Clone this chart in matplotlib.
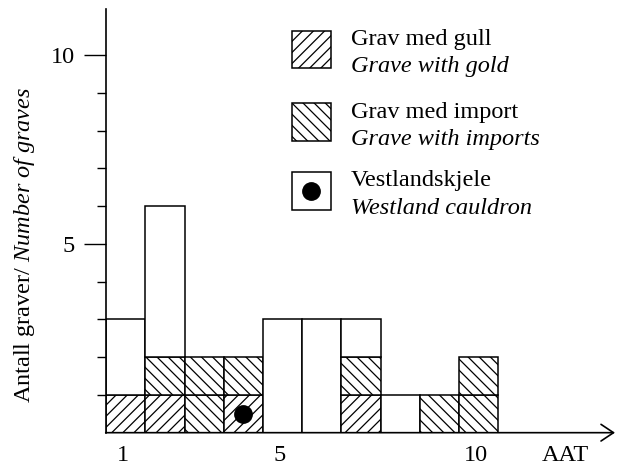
import matplotlib
matplotlib.use("Agg")
import matplotlib.pyplot as plt
from matplotlib.patches import Rectangle
from matplotlib.transforms import ScaledTranslation

plt.rcParams['font.family'] = ['Liberation Serif', 'DejaVu Serif']
plt.rcParams['mathtext.fontset'] = 'custom'
plt.rcParams['mathtext.rm'] = 'Liberation Serif'
plt.rcParams['mathtext.it'] = 'Liberation Serif:italic'
plt.rcParams['hatch.linewidth'] = 0.9
plt.rcParams['hatch.color'] = 'black'

# ---- data ----
periods = [1, 2, 3, 4, 5, 6, 7, 8, 9, 10]
gold_graves = [1, 1, 0, 1, 0, 0, 1, 0, 0, 0]
import_graves = [0, 1, 2, 1, 0, 0, 1, 0, 1, 2]
total_graves = [3, 6, 2, 2, 3, 3, 3, 1, 1, 2]
cauldron_periods = [4]
cauldron_level = [0.5]

x_tick_pos = [1, 5, 10, 12.28]
x_tick_labels = ['1', '5', '10', 'AAT']
y_major = [5, 10]
y_minor = [1, 2, 3, 4, 6, 7, 8, 9]

legend_labels = [("Grav med gull", "Grave with gold"),
                 ("Grav med import", "Grave with imports"),
                 ("Vestlandskjele", "Westland cauldron")]

FS = 17.5
LW = 1.1
GOLD_HATCH = '///'
IMPORT_HATCH = '\\\\\\'

fig = plt.figure(figsize=(6.24, 4.70), dpi=100)
ax = fig.add_axes([0.1694, 0.0794, 0.9856 - 0.1694, 0.9809 - 0.0794])
ax.set_xlim(0.49, 13.48)
ax.set_ylim(0, 11.22)

# ---- bars: cell by cell ----
for x, g, im, tot in zip(periods, gold_graves, import_graves, total_graves):
    level = 0
    for _ in range(g):
        ax.bar(x, 1, bottom=level, width=1, facecolor='white', edgecolor='black',
               hatch=GOLD_HATCH, linewidth=LW, zorder=2)
        level += 1
    for _ in range(im):
        ax.bar(x, 1, bottom=level, width=1, facecolor='white', edgecolor='black',
               hatch=IMPORT_HATCH, linewidth=LW, zorder=2)
        level += 1
    if tot > level:
        ax.bar(x, tot - level, bottom=level, width=1, facecolor='white',
               edgecolor='black', linewidth=LW, zorder=2)

ax.plot(cauldron_periods, cauldron_level, 'o', color='black', markersize=12.5, zorder=4)

# ---- legend (manual) ----
box_x = 5.23
box_bottoms = [9.65, 7.72, 5.9]
hatches = [GOLD_HATCH, IMPORT_HATCH, None]
text_x = 6.75
for (no, en), b, h in zip(legend_labels, box_bottoms, hatches):
    ax.add_patch(Rectangle((box_x, b), 1.0, 1.0, facecolor='white', edgecolor='black',
                           hatch=h, linewidth=LW, zorder=3, clip_on=False))
    c = b + 0.5
    ax.text(text_x, c + 0.12, no, fontsize=FS, va='baseline', ha='left')
    ax.text(text_x, c - 0.61, en, fontsize=FS, va='baseline', ha='left', style='italic')
    if h is None:
        ax.plot([box_x + 0.5], [c], 'o', color='black', markersize=12.5, zorder=4,
                clip_on=False)

# ---- axes styling ----
for s in ['top', 'right', 'bottom']:
    ax.spines[s].set_visible(False)
ax.spines['left'].set_linewidth(1.2)
ax.annotate('', xy=(1.0, 0), xytext=(0, 0), xycoords='axes fraction',
            arrowprops=dict(arrowstyle='->,head_length=0.9,head_width=0.6',
                            mutation_scale=10, lw=1.2, color='black',
                            shrinkA=0, shrinkB=0), zorder=5)

ax.set_yticks(y_major)
ax.set_yticks(y_minor, minor=True)
ax.set_yticklabels([str(v) for v in y_major], fontsize=FS)
ax.tick_params(axis='y', which='major', length=16, width=1.0, pad=6)
ax.tick_params(axis='y', which='minor', length=6.5, width=1.0)

ax.set_xticks(x_tick_pos)
ax.set_xticklabels(x_tick_labels, fontsize=FS)
ax.tick_params(axis='x', which='both', length=0, pad=9)
shift = ScaledTranslation(-3 / 100, 0, fig.dpi_scale_trans)
for lbl in ax.get_xticklabels():
    lbl.set_transform(lbl.get_transform() + shift)

fig.text(25 / 624, 1 - 245 / 470, r"Antall graver/ $\mathit{Number\ of\ graves}$",
         rotation=90, ha='center', va='center', fontsize=FS)

fig.savefig('out.png', dpi=100)
